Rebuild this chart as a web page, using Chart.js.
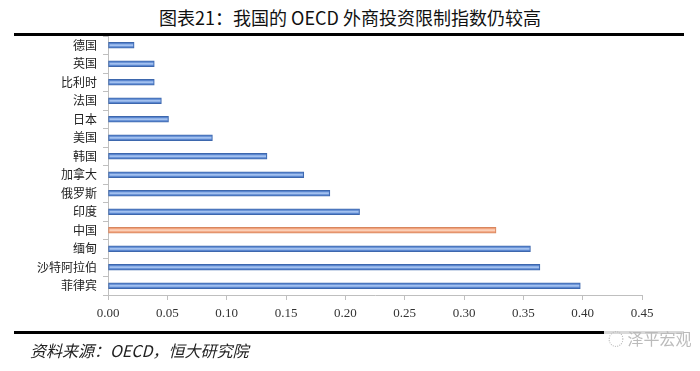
<!DOCTYPE html>
<html>
<head>
<meta charset="utf-8">
<script src="https://cdn.jsdelivr.net/npm/chart.js@4.4.1/dist/chart.umd.min.js"></script>
<style>
  html, body { margin: 0; padding: 0; background: #fff; }
  #wrap { position: relative; width: 700px; height: 371px; overflow: hidden; }
  #stage { position: absolute; left: 0; top: 0; }
  .title { position: absolute; left: 0; width: 700px; top: 4px; text-align: center;
    font: 18px "Noto Sans CJK SC", serif; color: #111; }
  .rule { position: absolute; left: 14px; width: 670px; height: 3px; background: #000; }
  .src { position: absolute; left: 30px; top: 338px; font: italic 16px "Noto Sans CJK SC", serif; color: #222; }
  .mark { position: absolute; left: 604px; top: 326px; font: 16px "Noto Sans CJK SC", sans-serif;
    color: #bbb; background: rgba(255,255,255,0.85); padding: 0 4px; }
</style>
</head>
<body>
<div id="wrap">
  <div class="title">图表21：我国的 OECD 外商投资限制指数仍较高</div>
  <div class="rule" style="top:33px"></div>
  <canvas id="stage" width="700" height="371"></canvas>
  <div class="rule" style="top:331px"></div>
  <div class="mark">◌ 泽平宏观</div>
  <div class="src">资料来源：OECD，恒大研究院</div>
</div>
<script>
const countries = ['德国','英国','比利时','法国','日本','美国','韩国','加拿大','俄罗斯','印度','中国','缅甸','沙特阿拉伯','菲律宾'];
const values = [0.022, 0.039, 0.039, 0.045, 0.051, 0.088, 0.134, 0.165, 0.187, 0.212, 0.327, 0.356, 0.364, 0.398];
const highlight = '中国';
const xTicks = [0, 0.05, 0.10, 0.15, 0.20, 0.25, 0.30, 0.35, 0.40, 0.45];

const blue = { fill: '#5a86cf', edge: '#3d67ad', shine: '#a3c1f0' };
const orange = { fill: '#f0a27c', edge: '#d8865e', shine: '#fbd0b8' };
const pick = (i) => countries[i] === highlight ? orange : blue;

// light strip through the middle of every bar, like the old excel gradient
const shinePlugin = {
  id: 'shine',
  afterDatasetsDraw(chart) {
    const ctx = chart.ctx;
    chart.getDatasetMeta(0).data.forEach((bar, i) => {
      const left = Math.min(bar.x, bar.base), right = Math.max(bar.x, bar.base);
      ctx.save();
      ctx.fillStyle = pick(i).shine;
      ctx.fillRect(left + 1, bar.y - 1, right - left - 2, 2);
      ctx.restore();
    });
  }
};

new Chart(document.getElementById('stage'), {
  type: 'bar',
  data: {
    labels: countries,
    datasets: [{
      data: values,
      backgroundColor: countries.map((c, i) => pick(i).fill),
      borderColor: countries.map((c, i) => pick(i).edge),
      borderWidth: 1,
      borderSkipped: false,
      barThickness: 6
    }]
  },
  options: {
    indexAxis: 'y',
    responsive: false,
    animation: false,
    layout: { padding: { left: 0, right: 58, top: 36, bottom: 46 } },
    plugins: { legend: { display: false }, tooltip: { enabled: false } },
    scales: {
      x: {
        min: 0, max: 0.45,
        afterBuildTicks: (s) => { s.ticks = xTicks.map(v => ({ value: v })); },
        afterFit: (s) => { s.height = 30; },
        grid: { drawOnChartArea: false, drawTicks: true, tickLength: 5, color: '#bfbfbf' },
        border: { color: '#bfbfbf' },
        ticks: {
          color: '#333', padding: 6,
          font: { family: 'Liberation Serif', size: 13 },
          callback: (v) => Number(v).toFixed(2)
        }
      },
      y: {
        afterFit: (s) => { s.width = 108; },
        grid: { drawOnChartArea: false, offset: true, tickLength: 5, color: '#bfbfbf' },
        border: { color: '#bfbfbf' },
        ticks: {
          color: '#222', padding: 6,
          font: { family: 'Noto Sans CJK SC', size: 12 }
        }
      }
    }
  },
  plugins: [shinePlugin]
});
</script>
</body>
</html>
